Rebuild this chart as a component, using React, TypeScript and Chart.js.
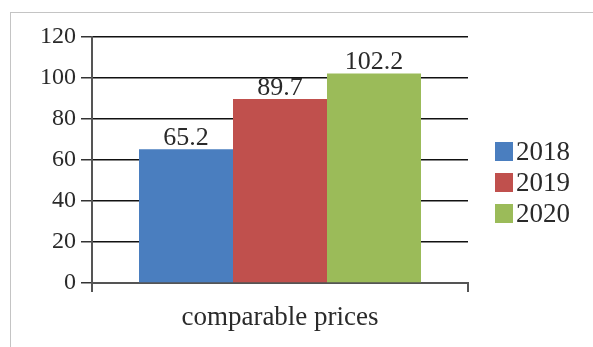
import React, { useEffect, useRef } from "react";
import { Chart, registerables } from "chart.js";

Chart.register(...registerables);

const categories = ["comparable prices"];
const seriesNames = ["2018", "2019", "2020"];
const seriesValues = [[65.2], [89.7], [102.2]];
const seriesColors = ["#4A7EBF", "#C0504D", "#9BBB59"];
const yTicks = [0, 20, 40, 60, 80, 100, 120];

const SERIF = "'Liberation Serif', 'Times New Roman', serif";

const overlayPlugin = {
  id: "overlay",
  afterDatasetsDraw(chart: any) {
    const ctx = chart.ctx;
    ctx.save();
    ctx.font = `26px ${SERIF}`;
    ctx.fillStyle = "#2a2a2a";
    ctx.textAlign = "center";
    ctx.textBaseline = "alphabetic";
    chart.data.datasets.forEach((ds: any, i: number) => {
      const meta = chart.getDatasetMeta(i);
      meta.data.forEach((bar: any, j: number) => {
        ctx.fillText(String(ds.data[j]), bar.x, bar.y - 4);
      });
    });
    // legend
    const lx = 495;
    const ly = 142;
    const step = 31;
    ctx.textAlign = "left";
    ctx.textBaseline = "middle";
    ctx.font = `27px ${SERIF}`;
    chart.data.datasets.forEach((ds: any, i: number) => {
      const y = ly + i * step;
      ctx.fillStyle = ds.backgroundColor;
      ctx.fillRect(lx, y, 18, 19);
      ctx.fillStyle = "#2a2a2a";
      ctx.fillText(ds.label, lx + 21, y + 11);
    });
    ctx.restore();
  },
};

export default function App() {
  const ref = useRef<HTMLCanvasElement>(null);
  useEffect(() => {
    document.body.style.overflow = "hidden";
    const chart = new Chart(ref.current!, {
      type: "bar",
      data: {
        labels: categories,
        datasets: seriesNames.map((name, i) => ({
          label: name,
          data: seriesValues[i],
          backgroundColor: seriesColors[i],
          borderWidth: 0,
          categoryPercentage: 0.75,
          barPercentage: 1,
        })),
      },
      options: {
        animation: false,
        responsive: false,
        devicePixelRatio: 1,
        layout: { padding: { left: 0, right: 125, top: 37, bottom: 0 } },
        plugins: { legend: { display: false }, tooltip: { enabled: false } },
        scales: {
          x: {
            offset: true,
            grid: {
              offset: true,
              drawOnChartArea: false,
              drawTicks: true,
              tickLength: 9,
              color: "#555",
              lineWidth: 2,
            },
            border: { display: true, color: "#555", width: 2 },
            ticks: {
              color: "#2a2a2a",
              font: { family: SERIF, size: 27 },
              padding: 10,
            },
            afterFit(scale: any) {
              scale.height = 64;
            },
          },
          y: {
            min: 0,
            max: 120,
            afterBuildTicks(scale: any) {
              scale.ticks = yTicks.map((v) => ({ value: v }));
            },
            grid: {
              color: "#111",
              lineWidth: 1.5,
              tickLength: 11,
              tickColor: "#333",
            },
            border: { display: true, color: "#555", width: 2 },
            ticks: {
              color: "#2a2a2a",
              font: { family: SERIF, size: 24 },
              padding: 5,
            },
            afterFit(scale: any) {
              scale.width = 92;
            },
          },
        },
      },
      plugins: [overlayPlugin],
    });
    return () => chart.destroy();
  }, []);

  return (
    <div style={{ position: "absolute", left: 0, top: 0, width: 593, height: 347, background: "#fff" }}>
      <div
        style={{
          position: "absolute",
          left: 10,
          top: 12,
          width: 600,
          height: 360,
          borderTop: "1px solid #c4c4c4",
          borderLeft: "1px solid #c4c4c4",
        }}
      />
      <canvas
        ref={ref}
        width={593}
        height={347}
        style={{ position: "absolute", left: 0, top: 0, width: 593, height: 347 }}
      />
    </div>
  );
}
